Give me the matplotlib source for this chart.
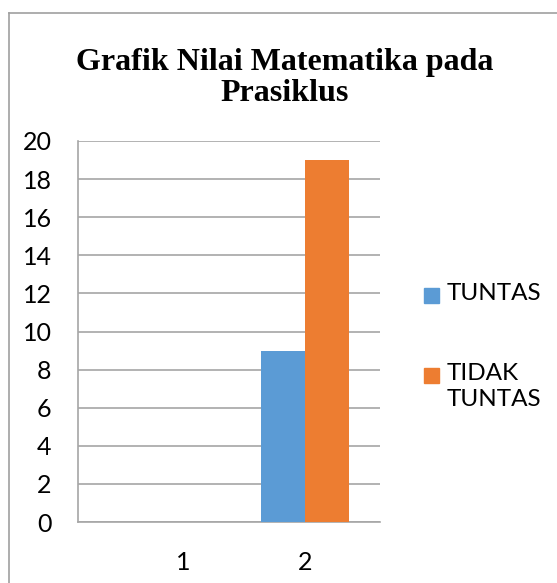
import numpy as np
import matplotlib.pyplot as plt
from matplotlib.patches import Rectangle
from matplotlib.lines import Line2D

categories = ['1', '2']
tuntas = [0, 9]
tidak_tuntas = [0, 19]
series_labels = ['TUNTAS', 'TIDAK\nTUNTAS']
colors = ['#5B9BD5', '#ED7D31']
title = 'Grafik Nilai Matematika pada\nPrasiklus'

W, H = 557, 583
fig = plt.figure(figsize=(W / 100, H / 100), dpi=100)
ax = fig.add_axes([78 / W, 1 - 522 / H, 302 / W, 381 / H])

x = np.arange(len(categories))
w = 0.357
ax.bar(x - w / 2, tuntas, w, color=colors[0], zorder=3)
ax.bar(x + w / 2, tidak_tuntas, w, color=colors[1], zorder=3)

# category spacing as in the source (plot area not centred on categories)
ax.set_xlim(-0.861, 1.615)
ax.set_ylim(0, 20)
ax.set_yticks(range(0, 21, 2))
ax.set_xticks(x)
ax.set_xticklabels(categories)
ax.grid(axis='y', color='#a6a6a6', linewidth=1.2, zorder=0)
for s in ['top', 'right']:
    ax.spines[s].set_visible(False)
for s in ['left', 'bottom']:
    ax.spines[s].set_color('#a6a6a6')
    ax.spines[s].set_linewidth(1.2)
ax.tick_params(length=0, labelsize=18, labelcolor='black')
ax.tick_params(axis='y', pad=19)
ax.tick_params(axis='x', pad=21)
for lab in ax.get_xticklabels() + ax.get_yticklabels():
    lab.set_family('Lato')

fig.text(285 / W, 1 - 78 / H, title, ha='center', va='center',
         family='Liberation Serif', weight='bold', fontsize=23, linespacing=1.12)

# legend
leg_y = [295, 375]
for lbl, c, yy in zip(series_labels, colors, leg_y):
    fig.add_artist(Rectangle((424 / W, 1 - (yy + 7.5) / H), 15 / W, 15 / H,
                             transform=fig.transFigure, color=c))
    fig.text(447 / W, 1 - (yy - 12) / H, lbl, ha='left', va='top',
             family='Lato', fontsize=17.5, linespacing=1.3)

# chart border
fig.add_artist(Line2D([8.5 / W, 8.5 / W], [0, 1 - 13 / H], transform=fig.transFigure,
                      color='#a0a0a0', linewidth=1.2))
fig.add_artist(Line2D([8.5 / W, 1], [1 - 13 / H, 1 - 13 / H], transform=fig.transFigure,
                      color='#a0a0a0', linewidth=1.2))

fig.savefig('out.png', dpi=100)
